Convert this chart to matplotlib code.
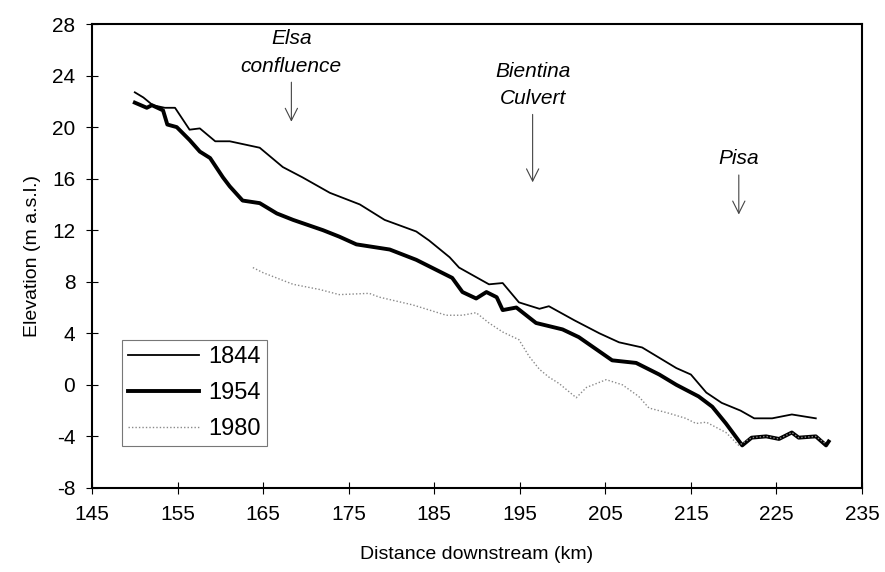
import matplotlib
matplotlib.use("Agg")
import matplotlib.pyplot as plt

# river bed profiles (km downstream, m a.s.l.)
km_1844 = [150.0, 151.0, 152.1, 153.5, 154.7, 156.4, 157.6, 159.4, 161.1, 164.6,
           167.3, 169.6, 172.8, 176.3, 179.2, 182.9, 184.4, 186.8, 187.9, 191.4,
           193.0, 194.9, 197.3, 198.4, 201.4, 204.3, 206.6, 209.3, 211.3, 213.3,
           215.0, 216.8, 218.6, 220.8, 222.4, 224.5, 226.8, 229.6]
elev_1844 = [22.7, 22.3, 21.7, 21.5, 21.5, 19.8, 19.9, 18.9, 18.9, 18.4,
             16.9, 16.1, 14.9, 14.0, 12.8, 11.9, 11.2, 9.9, 9.1, 7.8,
             7.9, 6.4, 5.9, 6.1, 5.0, 4.0, 3.3, 2.9, 2.1, 1.3,
             0.8, -0.6, -1.4, -2.0, -2.6, -2.6, -2.3, -2.6]

km_1954 = [150.0, 151.4, 152.0, 153.3, 153.8, 154.9, 156.4, 157.6, 158.8, 160.3,
           161.1, 162.6, 164.6, 166.6, 168.5, 172.0, 173.9, 175.9, 179.8, 182.9,
           187.1, 188.3, 189.9, 191.1, 192.3, 193.0, 194.6, 196.9, 200.0, 201.9,
           205.8, 208.6, 211.3, 213.3, 215.9, 217.5, 219.1, 221.0, 222.1, 223.8,
           225.3, 226.8, 227.6, 229.6, 230.8, 231.1]
elev_1954 = [21.9, 21.5, 21.7, 21.3, 20.2, 20.0, 19.0, 18.1, 17.6, 16.1,
             15.4, 14.3, 14.1, 13.3, 12.8, 12.0, 11.5, 10.9, 10.5, 9.7,
             8.3, 7.2, 6.7, 7.2, 6.8, 5.8, 6.0, 4.8, 4.3, 3.7,
             1.9, 1.7, 0.8, 0.0, -0.9, -1.7, -3.0, -4.7, -4.1, -4.0,
             -4.2, -3.7, -4.1, -4.0, -4.7, -4.4]

km_1980 = [163.8, 165.0, 168.5, 171.6, 173.9, 177.4, 178.6, 182.5, 186.4, 188.3,
           189.9, 191.4, 193.0, 194.9, 196.1, 197.3, 198.4, 199.6, 201.6, 202.8,
           205.1, 207.0, 208.9, 210.1, 212.4, 214.4, 215.6, 216.8, 219.1, 220.6,
           222.1, 223.8, 225.3, 226.8, 227.6, 229.6, 230.8]
elev_1980 = [9.1, 8.7, 7.8, 7.4, 7.0, 7.1, 6.8, 6.2, 5.4, 5.4,
             5.6, 4.8, 4.1, 3.5, 2.2, 1.2, 0.6, 0.1, -1.0, -0.2,
             0.4, 0.0, -0.9, -1.8, -2.2, -2.6, -3.0, -2.9, -3.7, -4.7,
             -4.1, -4.0, -4.2, -3.7, -4.1, -4.0, -4.6]

x_ticks = list(range(145, 236, 10))
y_ticks = list(range(-8, 29, 4))

# labels and where the arrows point (km, top of arrow, tip of arrow)
notes = ["Elsa\nconfluence", "Bientina\nCulvert", "Pisa"]
note_km = [168.3, 196.5, 220.6]
note_top = [23.7, 21.2, 16.5]
note_tip = [20.2, 15.5, 13.0]

plt.rcParams["font.family"] = ["Liberation Sans", "DejaVu Sans"]
plt.rcParams["axes.unicode_minus"] = False

fig = plt.figure(figsize=(8.85, 5.72), dpi=100)
ax = fig.add_axes([0.104, 0.147, 0.870, 0.811])

ax.plot(km_1844, elev_1844, color="black", lw=1.3, label="1844")
ax.plot(km_1954, elev_1954, color="black", lw=2.8, label="1954")
ax.plot(km_1980, elev_1980, color="#8a8a8a", lw=1.0, ls=(0, (1, 1.5)), label="1980")

for text, xk, top, tip in zip(notes, note_km, note_top, note_tip):
    ax.annotate("", xy=(xk, tip), xytext=(xk, top),
                arrowprops=dict(arrowstyle="->", color="#444444", lw=0.8,
                                mutation_scale=22))
    ax.text(xk, top + 0.3, text, ha="center", va="bottom", style="italic",
            fontsize=15, linespacing=1.55)

ax.set_xlim(145, 235)
ax.set_ylim(-8, 28)
ax.set_xticks(x_ticks)
ax.set_yticks(y_ticks)
ax.tick_params(direction="inout", length=8, width=0.8, labelsize=15, pad=8)
for sp in ax.spines.values():
    sp.set_linewidth(1.5)

ax.set_xlabel("Distance downstream (km)", fontsize=14, labelpad=16)
ax.set_ylabel("Elevation (m a.s.l.)", fontsize=14, labelpad=8)

leg = ax.legend(loc="lower left", bbox_to_anchor=(0.039, 0.09), borderaxespad=0,
                fontsize=17, frameon=True, fancybox=False, edgecolor="#555555",
                handlelength=3.0, handletextpad=0.4, borderpad=0.25,
                labelspacing=0.6)
leg.get_frame().set_linewidth(0.8)

fig.savefig("out.png", dpi=100)
